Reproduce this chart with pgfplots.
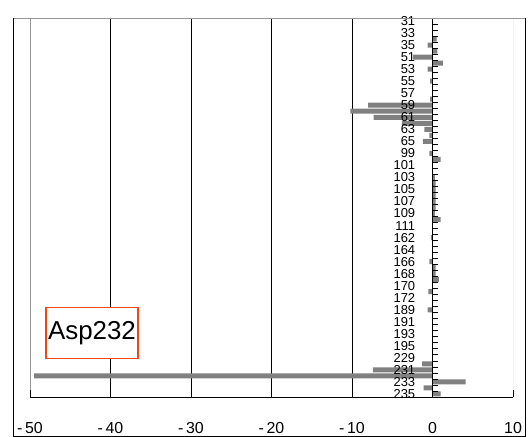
\documentclass[border=0pt]{standalone}
\usepackage{fontspec}
\setmainfont{Liberation Sans}
\usepackage{pgfplots}
\pgfplotsset{compat=1.18}
\usepackage{pgfplotstable}
\definecolor{bargray}{RGB}{128,128,128}
\definecolor{framegray}{RGB}{150,150,150}
\definecolor{boxred}{RGB}{245,70,25}
\pgfplotstableread{
k v
3 0.5
4 -0.6
5 0.6
6 -2.4
7 1.3
8 -0.6
10 -0.3
13 -0.3
14 -8.0
15 -10.2
16 -7.3
17 -3.8
18 -1.0
19 -0.4
20 -1.2
22 -0.4
23 1.0
26 0.3
27 0.4
28 0.4
29 0.4
30 0.4
31 0.4
32 0.3
33 1.0
36 -0.2
40 -0.4
41 0.4
42 0.4
43 0.8
45 -0.5
48 -0.6
57 -1.3
58 -7.4
59 -49.5
60 4.1
61 -1.1
62 1.0
}\datatable
\pgfplotsset{
  base/.style={
    at={(30bp,40bp)}, anchor=south west,
    width=483bp, height=379bp, scale only axis,
    xmin=-50, xmax=10, ymin=-0.5, ymax=62.5, y dir=reverse,
  }
}
\begin{document}
\begin{tikzpicture}[x=1bp,y=1bp]
\path (0,0) rectangle (528,437);
% grid and bars
\begin{axis}[base, hide axis]
\draw[black,line width=0.8bp] (axis cs:-40,-0.5) -- (axis cs:-40,62.5);
\draw[black,line width=0.8bp] (axis cs:-30,-0.5) -- (axis cs:-30,62.5);
\draw[black,line width=0.8bp] (axis cs:-20,-0.5) -- (axis cs:-20,62.5);
\draw[black,line width=0.8bp] (axis cs:-10,-0.5) -- (axis cs:-10,62.5);
\draw[framegray,line width=0.8bp] (axis cs:-50,62.5) -- (axis cs:-50,-0.5) -- (axis cs:10,-0.5) -- (axis cs:10,62.5);
\addplot[xbar, bar width=5bp, fill=bargray, draw=none] table[x=v, y=k] {\datatable};
\end{axis}
% axes, labels
\begin{axis}[base,
  axis x line=bottom, axis y line=middle,
  hide obscured x ticks=false, hide obscured y ticks=false,
  x axis line style={-,black,line width=0.8bp},
  y axis line style={-,black,line width=0.8bp},
  xtick={-50,-40,-30,-20,-10,0,10},
  xticklabels={-\kern2.5bp 50,-\kern2.5bp 40,-\kern2.5bp 30,-\kern2.5bp 20,-\kern2.5bp 10,0,10},
  x tick style={draw=none},
  ytick={0,2,...,62},
  yticklabels={31,33,35,51,53,55,57,59,61,63,65,99,101,103,105,107,109,111,162,164,166,168,170,172,189,191,193,195,229,231,233,235},
  xticklabel style={anchor=base, yshift=-34bp, font=\fontsize{16}{16}\selectfont},
  yticklabel style={anchor=east, inner sep=0pt, xshift=-15bp, font=\fontsize{13}{13}\selectfont},
  y tick style={draw=none},
]
\node[draw=boxred, line width=1.3bp, fill=white, minimum width=92bp, minimum height=51bp, inner sep=0pt, font=\fontsize{26}{26}\selectfont] at (axis cs:-42.3,51.9) {Asp232};
\end{axis}
% tick marks of the vertical axis at x = 0 (category boundaries)
\foreach \i in {0,...,63}{
  \draw[black,line width=0.8bp] (432.5,{419-\i*6.015873}) -- ++(5.5,0);
}
% tick marks at -50 and 10 on the bottom axis
\draw[black,line width=0.8bp] (30,40) -- (30,47);
\draw[black,line width=0.8bp] (513,40) -- (513,47);
\draw[black,line width=0.8bp] (13.5,419) -- (13.5,0.5) -- (525,0.5) -- (525,419);
\draw[framegray,line width=0.8bp] (13.5,419) -- (525,419);
\end{tikzpicture}
\end{document}
